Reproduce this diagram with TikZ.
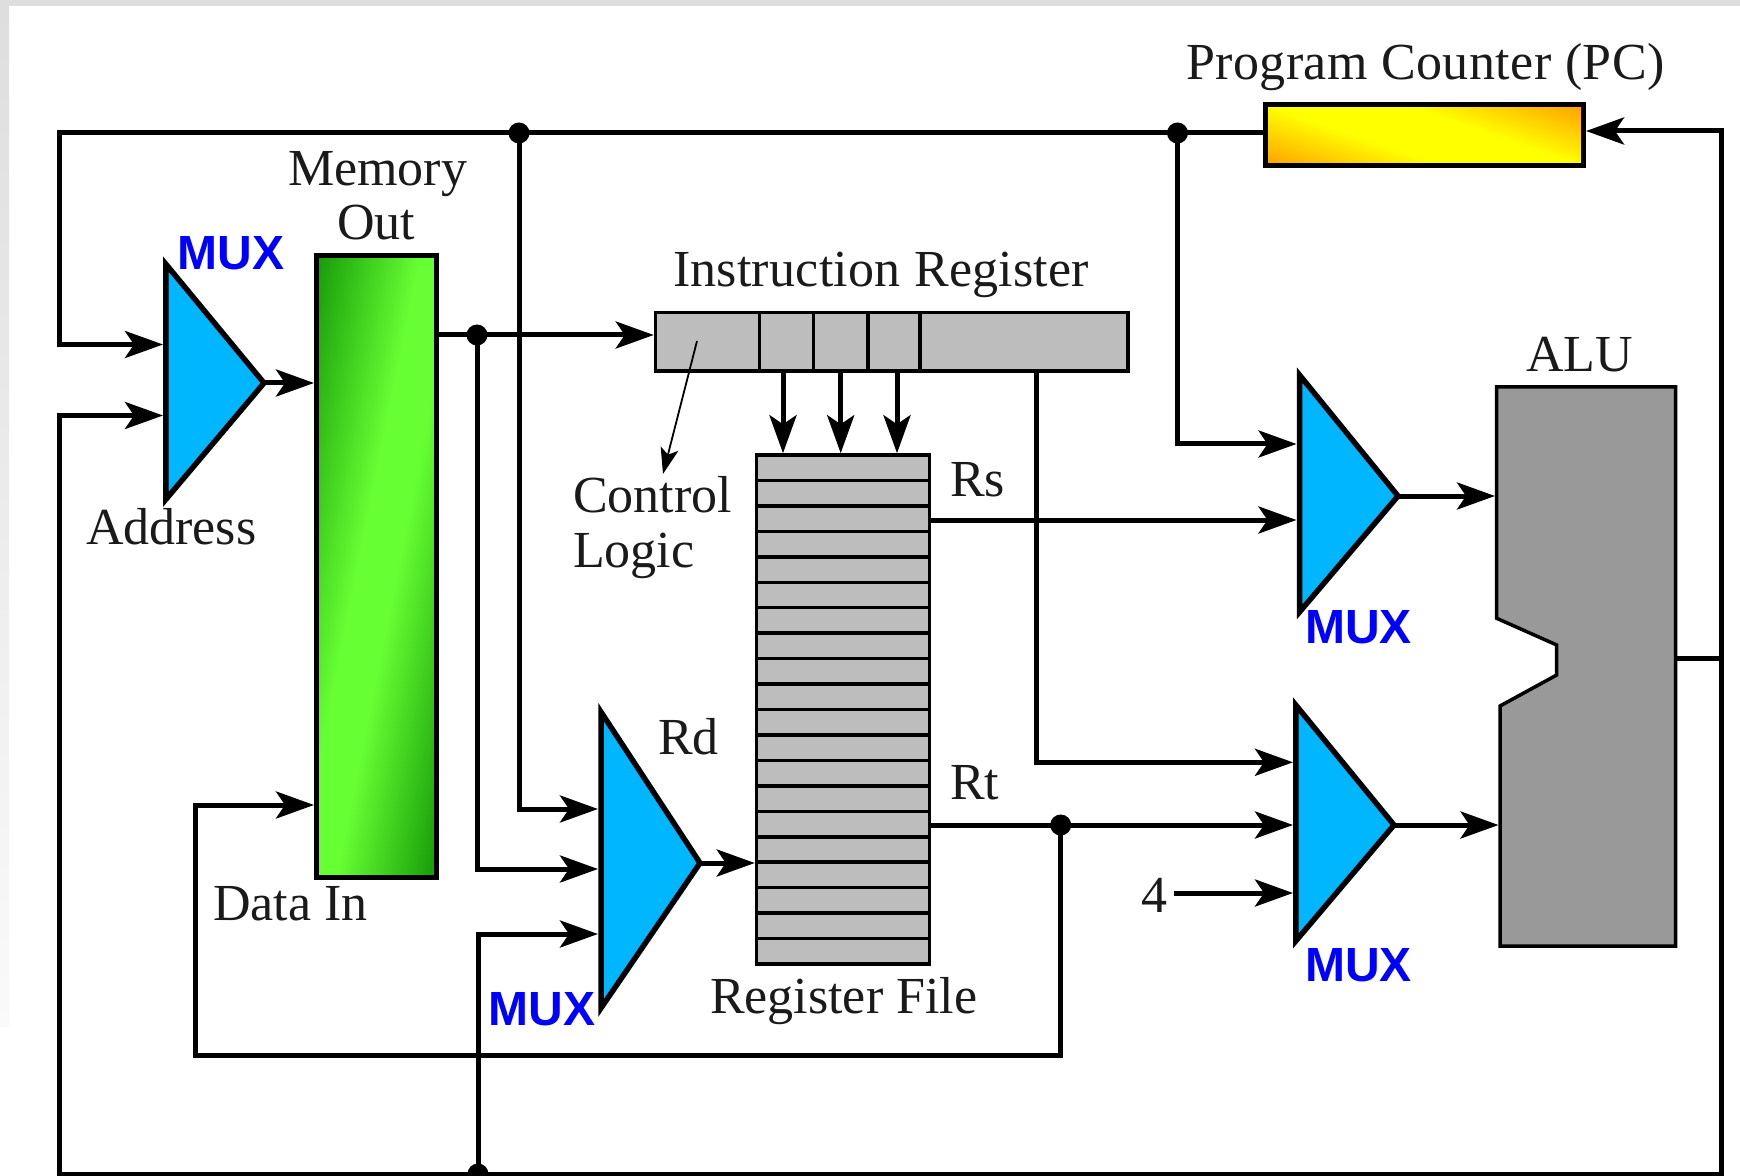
\documentclass[tikz,border=0pt]{standalone}
\usepackage{fontspec}
\setmainfont{Liberation Serif}
\newfontfamily\muxfont{Liberation Sans}
\usetikzlibrary{arrows.meta,calc}
\definecolor{mdark}{HTML}{169A08}
\definecolor{mbright}{HTML}{66FF33}
\definecolor{porange}{HTML}{FFA000}
\definecolor{pyellow}{HTML}{FFFF00}
\definecolor{muxblue}{HTML}{00B7FF}
\definecolor{regfill}{HTML}{BDBDBD}
\definecolor{alufill}{HTML}{999999}
\definecolor{inktext}{HTML}{1A1A1A}
\pgfdeclarehorizontalshading{memshade}{100bp}{color(0bp)=(mdark); color(41.4bp)=(mdark); color(48.7bp)=(mbright); color(51.5bp)=(mbright); color(58.5bp)=(mdark); color(100bp)=(mdark)}
\pgfdeclarehorizontalshading{pcshade}{100bp}{color(0bp)=(porange); color(38.3bp)=(porange); color(46.7bp)=(pyellow); color(53.3bp)=(pyellow); color(61.7bp)=(porange); color(100bp)=(porange)}
\tikzset{
  wire/.style={line width=2.5pt,line join=miter},
  arrowwire/.style={line width=2.5pt,line join=miter,-{Stealth[length=19pt,width=13.5pt,inset=4.5pt]}},
  muxshape/.style={draw=black,fill=muxblue,line width=2.75pt,line join=miter},
  lbl/.style={font=\fontsize{26}{26}\selectfont,text=inktext,inner sep=0pt,outer sep=0pt,anchor=base west},
  muxlbl/.style={font=\muxfont\bfseries\fontsize{24}{24}\selectfont,text=blue,inner sep=0pt,outer sep=0pt,anchor=base west},
  junction/.style={circle,fill=black,inner sep=0pt,minimum size=10.5pt},
  thickbox/.style={draw=black,line width=2.5pt,inner sep=0pt},
  thinbox/.style={draw=black,line width=1.75pt,inner sep=0pt},
  cellline/.style={line width=1.75pt},
}
\begin{document}
\begin{tikzpicture}[x=0.5pt,y=-0.5pt]
\useasboundingbox (0,0) rectangle (1740,1176);
% page edge
\fill[white] (0,0) rectangle (1740,1176);
\shade[top color=black!13,bottom color=black!2] (0,0) rectangle (9,1026);
\fill[black!13] (0,0) rectangle (1740,6);

% gradient fills
\begin{scope}
  \clip (316.5,256) rectangle (436.5,877.5);
  \shade[shading=memshade,shading angle=-11.3] (26.5,216.5) rectangle (726.5,916.5);
\end{scope}
\begin{scope}
  \clip (1265,105) rectangle (1583.5,165.5);
  \shade[shading=pcshade,shading angle=71] (1254,-34.75) rectangle (1594,305.25);
\end{scope}

% boxes
\node[thickbox,minimum width=60pt,minimum height=310.75pt] (mem) at (376.5,566.75) {};
\node[thickbox,minimum width=159.25pt,minimum height=30.25pt] (pc) at (1424.25,135.25) {};
\node[thinbox,fill=regfill,minimum width=236.25pt,minimum height=29.25pt] (ir) at (891.75,341.75) {};
\node[thinbox,fill=regfill,minimum width=86.5pt,minimum height=254.5pt] (reg) at (843,709.5) {};
\foreach \yy in {1,...,19}{
  \draw[cellline] (755,{455+\yy*25.45}) -- (931,{455+\yy*25.45});
}
\foreach \xx in {759.6,813.6,868,920}{
  \draw[cellline] (\xx,312.5) -- (\xx,371);
}

% ALU
\draw[draw=black,fill=alufill,line width=1.75pt,line join=miter]
  (1496.7,387) -- (1675.5,387) -- (1675.5,946) -- (1500,946) -- (1500,706)
  -- (1556.7,675) -- (1556.7,645) -- (1496.7,618.3) -- cycle;
\coordinate (aluTop) at (1495,496);
\coordinate (aluBot) at (1498.5,825);
\coordinate (aluOut) at (1676,658);

% multiplexers
\draw[muxshape] (165.75,264) -- (264,383) coordinate (mAo) -- (165.75,499.5) -- cycle;
\draw[muxshape] (601,712) -- (700,863) coordinate (mRo) -- (601,1008) -- cycle;
\draw[muxshape] (1299.5,375) -- (1398,496) coordinate (mSo) -- (1299.5,612) -- cycle;
\draw[muxshape] (1295.75,705) -- (1394,825) coordinate (mTo) -- (1295.75,941) -- cycle;

% named wiring points
\coordinate (tl) at (59.5,133);
\coordinate (j1) at (519,133);
\coordinate (j2) at (1177.5,133);
\coordinate (j3) at (477,335);
\coordinate (j4) at (1060.7,825);
\coordinate (j5) at (478,1174);
\coordinate (bl) at (59.5,1174.5);
\coordinate (br) at (1721,1174.5);
\coordinate (tr) at (1721,131);
\coordinate (in1) at (163,344.5);
\coordinate (in2) at (163,415.5);
\coordinate (dataT) at (195.5,805);
\coordinate (dataB) at (195.5,1055.5);
\coordinate (dataR) at (1060.7,1055.5);
\coordinate (rd1) at (598,809);
\coordinate (rd2) at (598,869);
\coordinate (rd3) at (598,934);
\coordinate (s1) at (1296.5,444);
\coordinate (s2) at (1296.5,520);
\coordinate (t1) at (1293,762.3);
\coordinate (t2) at (1293,825);
\coordinate (t3) at (1293,893);
\coordinate (irv) at (1036.7,371);
\coordinate (ctlA) at (697,341);
\coordinate (ctlB) at (663,474);
\coordinate (ra) at (783,371);
\coordinate (rb) at (840.7,371);
\coordinate (rc) at (897,371);
\coordinate (fourEnd) at (1174,893);

% connectors
\draw[arrowwire] (pc.west |- j2) -- (tl) -- (tl |- in1) -- (in1);
\draw[wire] (j5) -- (j5 |- bl);
\draw[arrowwire] (in2) ++(0,0) (aluOut) -- (aluOut -| tr) -- (br) -- (bl) -- (bl |- in2) -- (in2);
\draw[arrowwire] (aluOut -| tr) -- (tr) -- (tr -| pc.east);
\draw[arrowwire] (mAo) -- (mAo -| mem.west);
\draw[arrowwire] (mem.east |- j3) -- (j3 -| ir.west);
\draw[arrowwire] (j3) -- (j3 |- rd2) -- (rd2);
\draw[arrowwire] (j1) -- (j1 |- rd1) -- (rd1);
\draw[arrowwire] (j5) -- (j5 |- rd3) -- (rd3);
\draw[arrowwire] (mRo) -- (mRo -| reg.west);
\draw[arrowwire] (ra) -- (ra |- reg.north);
\draw[arrowwire] (rb) -- (rb |- reg.north);
\draw[arrowwire] (rc) -- (rc |- reg.north);
\draw[arrowwire] (reg.east |- s2) -- (s2);
\draw[arrowwire] (j2) -- (j2 |- s1) -- (s1);
\draw[arrowwire] (irv) -- (irv |- t1) -- (t1);
\draw[arrowwire] (reg.east |- t2) -- (t2);
\draw[arrowwire] (j4) -- (dataR) -- (dataB) -- (dataT) -- (dataT -| mem.west);
\draw[arrowwire] (mSo) -- (aluTop);
\draw[arrowwire] (mTo) -- (aluBot);
\draw[arrowwire] (fourEnd) -- (t3);
\draw[line width=0.9pt,-{Stealth[length=13pt,width=9pt,inset=3pt]}] (ctlA) -- (ctlB);

% junction dots
\node[junction] (d1) at (j1) {};
\node[junction] (d2) at (j2) {};
\node[junction] (d3) at (j3) {};
\node[junction] (d4) at (j4) {};
\node[junction] (d5) at (j5) {};

% labels
\node[lbl] (tPC) at (1186,80) {\addfontfeature{LetterSpace=0.9}Program Counter (PC)};
\node[lbl] (tMem) at (288,186) {Memory};
\node[lbl] (tOut) at (337,239.5) {Out};
\node[lbl] (tAddr) at (86,544) {Address};
\node[lbl] (tIR) at (673,286.5) {\addfontfeature{LetterSpace=0.5}Instruction Register};
\node[lbl] (tCtl) at (573,512) {Control};
\node[lbl] (tLog) at (573,567) {Logic};
\node[lbl] (tRs) at (950,496) {Rs};
\node[lbl] (tRd) at (658,754) {Rd};
\node[lbl] (tRt) at (950,799) {Rt};
\node[lbl] (tRF) at (710,1013) {Register File};
\node[lbl] (tData) at (213,920) {Data In};
\node[lbl] (tALU) at (1526,371.5) {ALU};
\node[lbl] (tFour) at (1141,912) {4};
\node[muxlbl] (mx1) at (177.5,270) {MUX};
\node[muxlbl] (mx2) at (488.5,1025) {MUX};
\node[muxlbl] (mx3) at (1305,643.5) {MUX};
\node[muxlbl] (mx4) at (1305,981) {MUX};
\end{tikzpicture}
\end{document}
